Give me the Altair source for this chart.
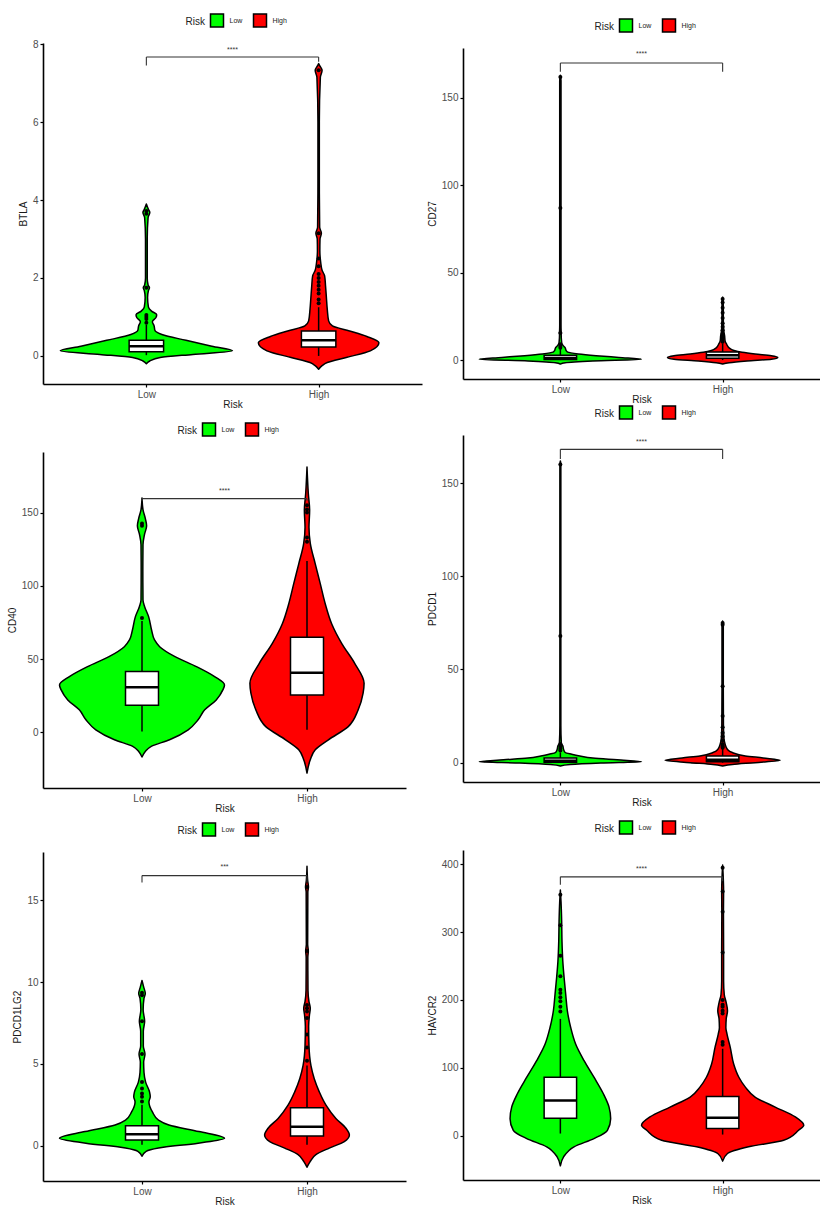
import altair as alt
import pandas as pd

FONT = "Liberation Sans"
GROUPS = ["Low", "High"]
FILLS = ["#00FF00", "#FF0000"]

# ---------------- BTLA ----------------
BTLA_LOW_Y = [-0.20, -0.13, -0.04, 0.04, 0.13, 0.25, 0.40, 0.55, 0.65, 0.77, 0.88, 0.98, 1.06, 1.15,
              1.25, 1.50, 1.68, 1.75, 1.82, 2.00, 3.00, 3.55, 3.68, 3.76, 3.90]
BTLA_LOW_W = [0.0, 0.02, 0.08, 0.27, 0.50, 0.38, 0.23, 0.09, 0.05, 0.045, 0.035, 0.055, 0.06, 0.03,
              0.012, 0.007, 0.012, 0.018, 0.01, 0.005, 0.005, 0.01, 0.02, 0.012, 0.0]
BTLA_HIGH_Y = [-0.34, -0.25, -0.17, -0.04, 0.13, 0.34, 0.50, 0.64, 0.77, 0.90, 1.20, 1.50, 1.80,
               2.05, 2.20, 2.40, 2.70, 3.00, 3.15, 3.30, 4.50, 6.00, 7.15, 7.33, 7.45, 7.50]
BTLA_HIGH_W = [0.0, 0.02, 0.05, 0.16, 0.30, 0.35, 0.28, 0.18, 0.08, 0.058, 0.05, 0.045, 0.04,
               0.035, 0.02, 0.012, 0.007, 0.008, 0.016, 0.006, 0.004, 0.004, 0.01, 0.02, 0.006, 0.0]
BTLA_BOX_LOW = [0.02, 0.11, 0.25, 0.40, 0.80]      # lower whisker, Q1, median, Q3, upper whisker
BTLA_BOX_HIGH = [0.0, 0.23, 0.40, 0.64, 1.25]
BTLA_OUT_LOW = [0.85, 0.95, 1.0, 1.05, 1.75, 3.65, 3.72]
BTLA_OUT_HIGH = [1.35, 1.45, 1.6, 1.7, 1.8, 1.9, 2.0, 2.1, 2.3, 2.5, 3.15, 7.33]
BTLA_BRACKET = [7.67, 7.45, 7.55]                  # top, Low end, High end
BTLA_SIG = ["****", 7.86]
BTLA_DOMAIN = [-0.72, 8.03]
BTLA_TICKS = [0, 2, 4, 6, 8]

# ---------------- CD27 ----------------
CD27_LOW_Y = [-2.3, -1.5, -0.5, 0.5, 1.5, 2.5, 3.5, 4.5, 5.5, 7.0, 8.5, 10.0, 15.0, 15.5, 16.0,
              20.0, 87.0, 160.0, 163.0]
CD27_LOW_W = [0.0, 0.03, 0.20, 0.50, 0.36, 0.22, 0.11, 0.045, 0.035, 0.03, 0.015, 0.008, 0.005,
              0.007, 0.005, 0.004, 0.004, 0.004, 0.0]
CD27_HIGH_Y = [-2.3, -1.5, -0.5, 0.5, 1.5, 2.5, 3.5, 4.5, 5.5, 7.0, 9.0, 11.0, 14.0, 16.0, 20.0,
               25.0, 30.0, 35.0, 36.0]
CD27_HIGH_W = [0.0, 0.04, 0.15, 0.30, 0.34, 0.30, 0.20, 0.12, 0.07, 0.04, 0.025, 0.015, 0.012,
               0.008, 0.005, 0.004, 0.004, 0.003, 0.0]
CD27_BOX_LOW = [0.0, 0.3, 1.2, 2.8, 6.5]
CD27_BOX_HIGH = [0.0, 1.0, 2.8, 4.6, 9.5]
CD27_OUT_LOW = [7.0, 8.0, 9.0, 15.5, 87.0, 162.0]
CD27_OUT_HIGH = [10.5, 12.0, 13.0, 14.0, 15.0, 17.0, 19.0, 21.0, 24.0, 27.0, 30.0, 33.0, 35.0]
CD27_BRACKET = [170.0, 165.0, 165.0]
CD27_SIG = ["****", 175.0]
CD27_DOMAIN = [-10.85, 178.6]
CD27_TICKS = [0, 50, 100, 150]

# ---------------- CD40 ----------------
CD40_LOW_Y = [-16.8, -13.0, -9.5, -5.0, 1.8, 8.6, 15.4, 22.2, 29.0, 32.4, 38.1, 44.9, 51.7, 58.5,
              63.1, 69.9, 79.0, 85.8, 90.3, 110.0, 128.0, 135.0, 141.0, 146.0, 152.0, 160.0]
CD40_LOW_W = [0.0, 0.02, 0.056, 0.167, 0.28, 0.34, 0.38, 0.45, 0.49, 0.50, 0.44, 0.33, 0.20, 0.107,
              0.076, 0.058, 0.04, 0.016, 0.006, 0.005, 0.006, 0.015, 0.028, 0.02, 0.006, 0.0]
CD40_HIGH_Y = [-27.7, -18.6, -11.8, -5.0, 4.0, 15.4, 26.8, 33.6, 47.0, 60.8, 74.0, 88.0, 101.7,
               115.0, 129.0, 140.0, 151.6, 163.0, 181.0]
CD40_HIGH_W = [0.0, 0.02, 0.05, 0.13, 0.25, 0.31, 0.34, 0.346, 0.29, 0.21, 0.15, 0.11, 0.08, 0.05,
               0.02, 0.012, 0.016, 0.008, 0.0]
CD40_BOX_LOW = [0.7, 18.6, 30.9, 41.5, 76.0]
CD40_BOX_HIGH = [1.8, 25.6, 40.8, 64.9, 117.0]
CD40_OUT_LOW = [78.0, 141.0, 142.5]
CD40_OUT_HIGH = [130.0, 133.0, 150.0, 152.0, 155.0]
CD40_BRACKET = [159.5, 158.0, 158.0]
CD40_SIG = ["****", 165.0]
CD40_DOMAIN = [-37.9, 191.3]
CD40_TICKS = [0, 50, 100, 150]

# ---------------- PDCD1 ----------------
PDCD1_LOW_Y = [-1.8, -1.0, -0.2, 0.5, 1.5, 2.5, 3.6, 4.5, 5.4, 7.0, 9.0, 10.5, 20.0, 68.0, 160.0, 162.0]
PDCD1_LOW_W = [0.0, 0.06, 0.25, 0.50, 0.35, 0.20, 0.12, 0.07, 0.03, 0.02, 0.015, 0.006, 0.003,
               0.003, 0.003, 0.0]
PDCD1_HIGH_Y = [-1.8, -1.0, 0.0, 1.25, 2.5, 3.6, 5.4, 7.1, 10.0, 13.0, 20.0, 40.0, 74.0, 76.0]
PDCD1_HIGH_W = [0.0, 0.06, 0.20, 0.355, 0.25, 0.14, 0.06, 0.03, 0.015, 0.008, 0.005, 0.004, 0.004, 0.0]
PDCD1_BOX_LOW = [0.0, 0.2, 1.0, 2.5, 5.5]
PDCD1_BOX_HIGH = [0.0, 0.5, 1.5, 3.5, 7.5]
PDCD1_OUT_LOW = [6.5, 7.5, 8.5, 10.0, 68.0, 160.0]
PDCD1_OUT_HIGH = [8.0, 8.5, 9.0, 10.0, 12.0, 14.0, 16.0, 19.0, 25.0, 41.0, 74.0, 75.0]
PDCD1_BRACKET = [168.2, 163.0, 163.0]
PDCD1_SIG = ["****", 172.3]
PDCD1_DOMAIN = [-10.4, 175.9]
PDCD1_TICKS = [0, 50, 100, 150]

# ---------------- PDCD1LG2 ----------------
PDCD1LG2_LOW_Y = [-0.64, -0.34, -0.14, 0.16, 0.46, 0.87, 1.27, 1.57, 2.07, 2.68, 3.0, 3.28, 3.89,
                  4.49, 5.1, 5.6, 6.1, 7.0, 7.6, 8.3, 9.0, 9.3, 9.7, 10.1]
PDCD1LG2_LOW_W = [0.0, 0.025, 0.10, 0.34, 0.50, 0.345, 0.163, 0.10, 0.063, 0.042, 0.05, 0.046,
                  0.022, 0.012, 0.01, 0.018, 0.008, 0.008, 0.016, 0.007, 0.012, 0.02, 0.01, 0.0]
PDCD1LG2_HIGH_Y = [-1.31, -0.95, -0.54, -0.14, 0.26, 0.66, 1.07, 1.67, 2.48, 3.28, 4.09, 4.89, 6.1,
                   7.3, 8.0, 8.4, 8.8, 9.5, 11.5, 11.9, 12.3, 15.5, 15.8, 16.2, 17.07]
PDCD1LG2_HIGH_W = [0.0, 0.02, 0.054, 0.135, 0.226, 0.257, 0.236, 0.175, 0.115, 0.075, 0.044, 0.024,
                   0.012, 0.01, 0.015, 0.02, 0.012, 0.006, 0.005, 0.008, 0.004, 0.005, 0.009, 0.004, 0.0]
PDCD1LG2_BOX_LOW = [0.06, 0.36, 0.70, 1.23, 2.5]
PDCD1LG2_BOX_HIGH = [0.06, 0.60, 1.17, 2.32, 4.9]
PDCD1LG2_OUT_LOW = [2.7, 3.0, 3.2, 3.5, 3.9, 5.6, 7.6, 9.2, 9.35]
PDCD1LG2_OUT_HIGH = [5.2, 6.0, 6.8, 7.8, 8.2, 8.4, 8.6, 11.9, 15.8]
PDCD1LG2_BRACKET = [16.5, 16.07, 16.1]
PDCD1LG2_SIG = ["***", 17.03]
PDCD1LG2_DOMAIN = [-2.15, 17.94]
PDCD1LG2_TICKS = [0, 5, 10, 15]

# ---------------- HAVCR2 ----------------
HAVCR2_LOW_Y = [-44.5, -31.3, -16.6, -4.4, 7.8, 24.9, 42.0, 61.6, 86.0, 110.5, 135.0, 159.0, 184.0,
                208.0, 233.0, 257.0, 286.5, 316.0, 345.0, 362.0]
HAVCR2_LOW_W = [0.0, 0.02, 0.084, 0.207, 0.29, 0.31, 0.30, 0.265, 0.207, 0.146, 0.094, 0.064, 0.043,
                0.033, 0.023, 0.015, 0.01, 0.008, 0.004, 0.0]
HAVCR2_HIGH_Y = [-37.7, -26.4, -16.6, -6.8, 7.8, 15.2, 27.4, 42.0, 56.7, 71.4, 86.0, 105.6, 130.0,
                 149.6, 159.0, 172.0, 184.0, 196.0, 208.0, 228.0, 270.0, 330.0, 360.0, 399.0]
HAVCR2_HIGH_W = [0.0, 0.03, 0.16, 0.376, 0.468, 0.50, 0.448, 0.324, 0.20, 0.14, 0.10, 0.068, 0.047,
                 0.027, 0.02, 0.022, 0.03, 0.022, 0.01, 0.006, 0.006, 0.005, 0.006, 0.0]
HAVCR2_BOX_LOW = [3.0, 25.4, 51.8, 86.0, 172.0]
HAVCR2_BOX_HIGH = [1.5, 10.3, 26.4, 57.7, 128.0]
HAVCR2_OUT_LOW = [183.0, 190.0, 198.0, 204.0, 210.0, 215.0, 235.0, 265.0, 310.0, 355.0]
HAVCR2_OUT_HIGH = [134.0, 138.0, 180.0, 184.0, 190.0, 193.0, 200.0, 270.0, 330.0, 360.0, 395.0]
HAVCR2_BRACKET = [381.4, 369.7, 375.0]
HAVCR2_SIG = ["****", 393.0]
HAVCR2_DOMAIN = [-65.5, 421.0]
HAVCR2_TICKS = [0, 100, 200, 300, 400]


def panel(gene, low_y, low_w, high_y, high_w, box_low, box_high, out_low, out_high,
          bracket, sig, ydomain, yticks, width, height, top, xtitle_y=None):
    xs = alt.Scale(domain=[0.4, 2.6], nice=False, zero=False)
    ys = alt.Scale(domain=ydomain, nice=False, zero=False)
    xkw = {} if xtitle_y is None else {"titleY": xtitle_y, "titleBaseline": "top"}
    xax = alt.Axis(values=[1, 2], title="Risk",
                   labelExpr="datum.value == 1 ? 'Low' : 'High'", **xkw)
    yax = alt.Axis(values=yticks, title=gene)

    # violin outlines: value along y, half-width in category units
    rows = []
    for grp, pos, vy, vw in (("Low", 1, low_y, low_w), ("High", 2, high_y, high_w)):
        for a, b in zip(vy, vw):
            rows.append({"Risk": grp, "pos": pos, "v": a, "hw": b})
    vdf = pd.DataFrame(rows)

    violin = alt.Chart(vdf).transform_calculate(
        xl="datum.pos - datum.hw", xr="datum.pos + datum.hw"
    ).mark_area(
        orient="horizontal", interpolate="monotone", stroke="black",
        strokeWidth=1.5, opacity=1, strokeJoin="round"
    ).encode(
        y=alt.Y("v:Q", scale=ys, axis=yax),
        x=alt.X("xl:Q", scale=xs, axis=xax),
        x2="xr:Q",
        color=alt.Color(
            "Risk:N",
            scale=alt.Scale(domain=GROUPS, range=FILLS),
            legend=alt.Legend(
                orient="none", legendX=width / 2 - 47, legendY=-30,
                direction="horizontal", titleOrient="left", title="Risk",
                symbolType="square", symbolSize=169, symbolStrokeColor="black",
                symbolStrokeWidth=1.5, symbolOpacity=1, labelFontSize=7,
                titleFontSize=10, titleFontWeight="normal", titlePadding=4,
                labelOffset=5, columnPadding=8, padding=0, labelColor="#222222",
                titleColor="#222222", labelFont=FONT, titleFont=FONT,
            ),
        ),
    )

    bdf = pd.DataFrame({
        "pos": [1, 2],
        "lo": [box_low[0], box_high[0]],
        "q1": [box_low[1], box_high[1]],
        "med": [box_low[2], box_high[2]],
        "q3": [box_low[3], box_high[3]],
        "hi": [box_low[4], box_high[4]],
    })
    bbase = alt.Chart(bdf).transform_calculate(
        bl="datum.pos - 0.1", br="datum.pos + 0.1"
    )
    whisk_lo = bbase.mark_rule(color="black", strokeWidth=1.5).encode(
        x=alt.X("pos:Q", scale=xs, axis=xax),
        y=alt.Y("lo:Q", scale=ys, axis=yax), y2="q1:Q")
    whisk_hi = bbase.mark_rule(color="black", strokeWidth=1.5).encode(
        x=alt.X("pos:Q", scale=xs, axis=xax),
        y=alt.Y("q3:Q", scale=ys, axis=yax), y2="hi:Q")
    box = bbase.mark_rect(fill="white", stroke="black", strokeWidth=1.5).encode(
        x=alt.X("bl:Q", scale=xs, axis=xax), x2="br:Q",
        y=alt.Y("q1:Q", scale=ys, axis=yax), y2="q3:Q")
    med = bbase.mark_rule(color="black", strokeWidth=2.5).encode(
        x=alt.X("bl:Q", scale=xs, axis=xax), x2="br:Q",
        y=alt.Y("med:Q", scale=ys, axis=yax))

    odf = pd.DataFrame({
        "pos": [1] * len(out_low) + [2] * len(out_high),
        "v": list(out_low) + list(out_high),
    })
    outliers = alt.Chart(odf).mark_circle(size=16, color="black", opacity=1).encode(
        x=alt.X("pos:Q", scale=xs, axis=xax),
        y=alt.Y("v:Q", scale=ys, axis=yax))

    top_y, low_end, high_end = bracket
    brdf = pd.DataFrame({
        "x": [1, 1, 2], "x2": [2, 1, 2],
        "y": [top_y, low_end, high_end], "y2": [top_y, top_y, top_y],
    })
    brk = alt.Chart(brdf).mark_rule(color="#333333", strokeWidth=1.1).encode(
        x=alt.X("x:Q", scale=xs, axis=xax), x2="x2:Q",
        y=alt.Y("y:Q", scale=ys, axis=yax), y2="y2:Q")

    sdf = pd.DataFrame({"x": [1.5], "y": [sig[1]], "t": [sig[0]]})
    star = alt.Chart(sdf).mark_text(fontSize=7, color="#333333", baseline="middle",
                                    font=FONT).encode(
        x=alt.X("x:Q", scale=xs, axis=xax),
        y=alt.Y("y:Q", scale=ys, axis=yax), text="t:N")

    # keeps the room reserved above the legend
    spacer = alt.Chart(pd.DataFrame({"s": [0]})).mark_text(
        text=" ", fontSize=1, baseline="bottom").encode(
        x=alt.value(0), y=alt.value(-top))

    return alt.layer(violin, whisk_lo, whisk_hi, box, med, outliers, brk, star, spacer
                     ).properties(width=width, height=height)


p_btla = panel("BTLA", BTLA_LOW_Y, BTLA_LOW_W, BTLA_HIGH_Y, BTLA_HIGH_W, BTLA_BOX_LOW,
               BTLA_BOX_HIGH, BTLA_OUT_LOW, BTLA_OUT_HIGH, BTLA_BRACKET, BTLA_SIG,
               BTLA_DOMAIN, BTLA_TICKS, 379, 341, 36)
p_cd27 = panel("CD27", CD27_LOW_Y, CD27_LOW_W, CD27_HIGH_Y, CD27_HIGH_W, CD27_BOX_LOW,
               CD27_BOX_HIGH, CD27_OUT_LOW, CD27_OUT_HIGH, CD27_BRACKET, CD27_SIG,
               CD27_DOMAIN, CD27_TICKS, 357, 331, 41)
p_cd40 = panel("CD40", CD40_LOW_Y, CD40_LOW_W, CD40_HIGH_Y, CD40_HIGH_W, CD40_BOX_LOW,
               CD40_BOX_HIGH, CD40_OUT_LOW, CD40_OUT_HIGH, CD40_BRACKET, CD40_SIG,
               CD40_DOMAIN, CD40_TICKS, 363, 336, 42)
p_pdcd1 = panel("PDCD1", PDCD1_LOW_Y, PDCD1_LOW_W, PDCD1_HIGH_Y, PDCD1_HIGH_W, PDCD1_BOX_LOW,
                PDCD1_BOX_HIGH, PDCD1_OUT_LOW, PDCD1_OUT_HIGH, PDCD1_BRACKET, PDCD1_SIG,
                PDCD1_DOMAIN, PDCD1_TICKS, 357, 347, 30)
p_pdcd1lg2 = panel("PDCD1LG2", PDCD1LG2_LOW_Y, PDCD1LG2_LOW_W, PDCD1LG2_HIGH_Y, PDCD1LG2_HIGH_W,
                   PDCD1LG2_BOX_LOW, PDCD1LG2_BOX_HIGH, PDCD1LG2_OUT_LOW, PDCD1LG2_OUT_HIGH,
                   PDCD1LG2_BRACKET, PDCD1LG2_SIG, PDCD1LG2_DOMAIN, PDCD1LG2_TICKS, 363, 329, 38,
                   xtitle_y=15)
p_havcr2 = panel("HAVCR2", HAVCR2_LOW_Y, HAVCR2_LOW_W, HAVCR2_HIGH_Y, HAVCR2_HIGH_W,
                 HAVCR2_BOX_LOW, HAVCR2_BOX_HIGH, HAVCR2_OUT_LOW, HAVCR2_OUT_HIGH,
                 HAVCR2_BRACKET, HAVCR2_SIG, HAVCR2_DOMAIN, HAVCR2_TICKS, 357, 330, 42,
                 xtitle_y=15)


def top_anchor():
    # a 1px cell that pins the top of each column
    return alt.Chart(pd.DataFrame({"s": [0]})).mark_text(
        text=" ", fontSize=1, baseline="top").encode(
        x=alt.value(0), y=alt.value(0)).properties(width=1, height=1)


def indep(c):
    return c.resolve_scale(x="independent", y="independent", color="independent"
                           ).resolve_legend(color="independent"
                           ).resolve_axis(x="independent", y="independent")


left = indep(alt.vconcat(top_anchor(), p_btla, p_cd40, p_pdcd1lg2, spacing=0))
right = indep(alt.vconcat(top_anchor(), p_cd27, p_pdcd1, p_havcr2, spacing=0))

chart = indep(alt.hconcat(left, right, spacing=5)).properties(
    padding={"left": 7, "top": 5, "right": 0, "bottom": 0},
    background="white",
).configure_view(stroke=None).configure_axis(
    grid=False, domainColor="black", domainWidth=1.6, tickColor="black", tickWidth=1.2,
    tickSize=3, labelColor="#4d4d4d", labelFontSize=10, labelFont=FONT, titleFont=FONT,
    titleFontSize=10, titleFontWeight="normal", titleColor="#1a1a1a", labelPadding=2,
).configure_axisX(titlePadding=0).configure_axisY(titlePadding=4)

chart.save("out.html", embed_options={"renderer": "svg", "actions": False})
